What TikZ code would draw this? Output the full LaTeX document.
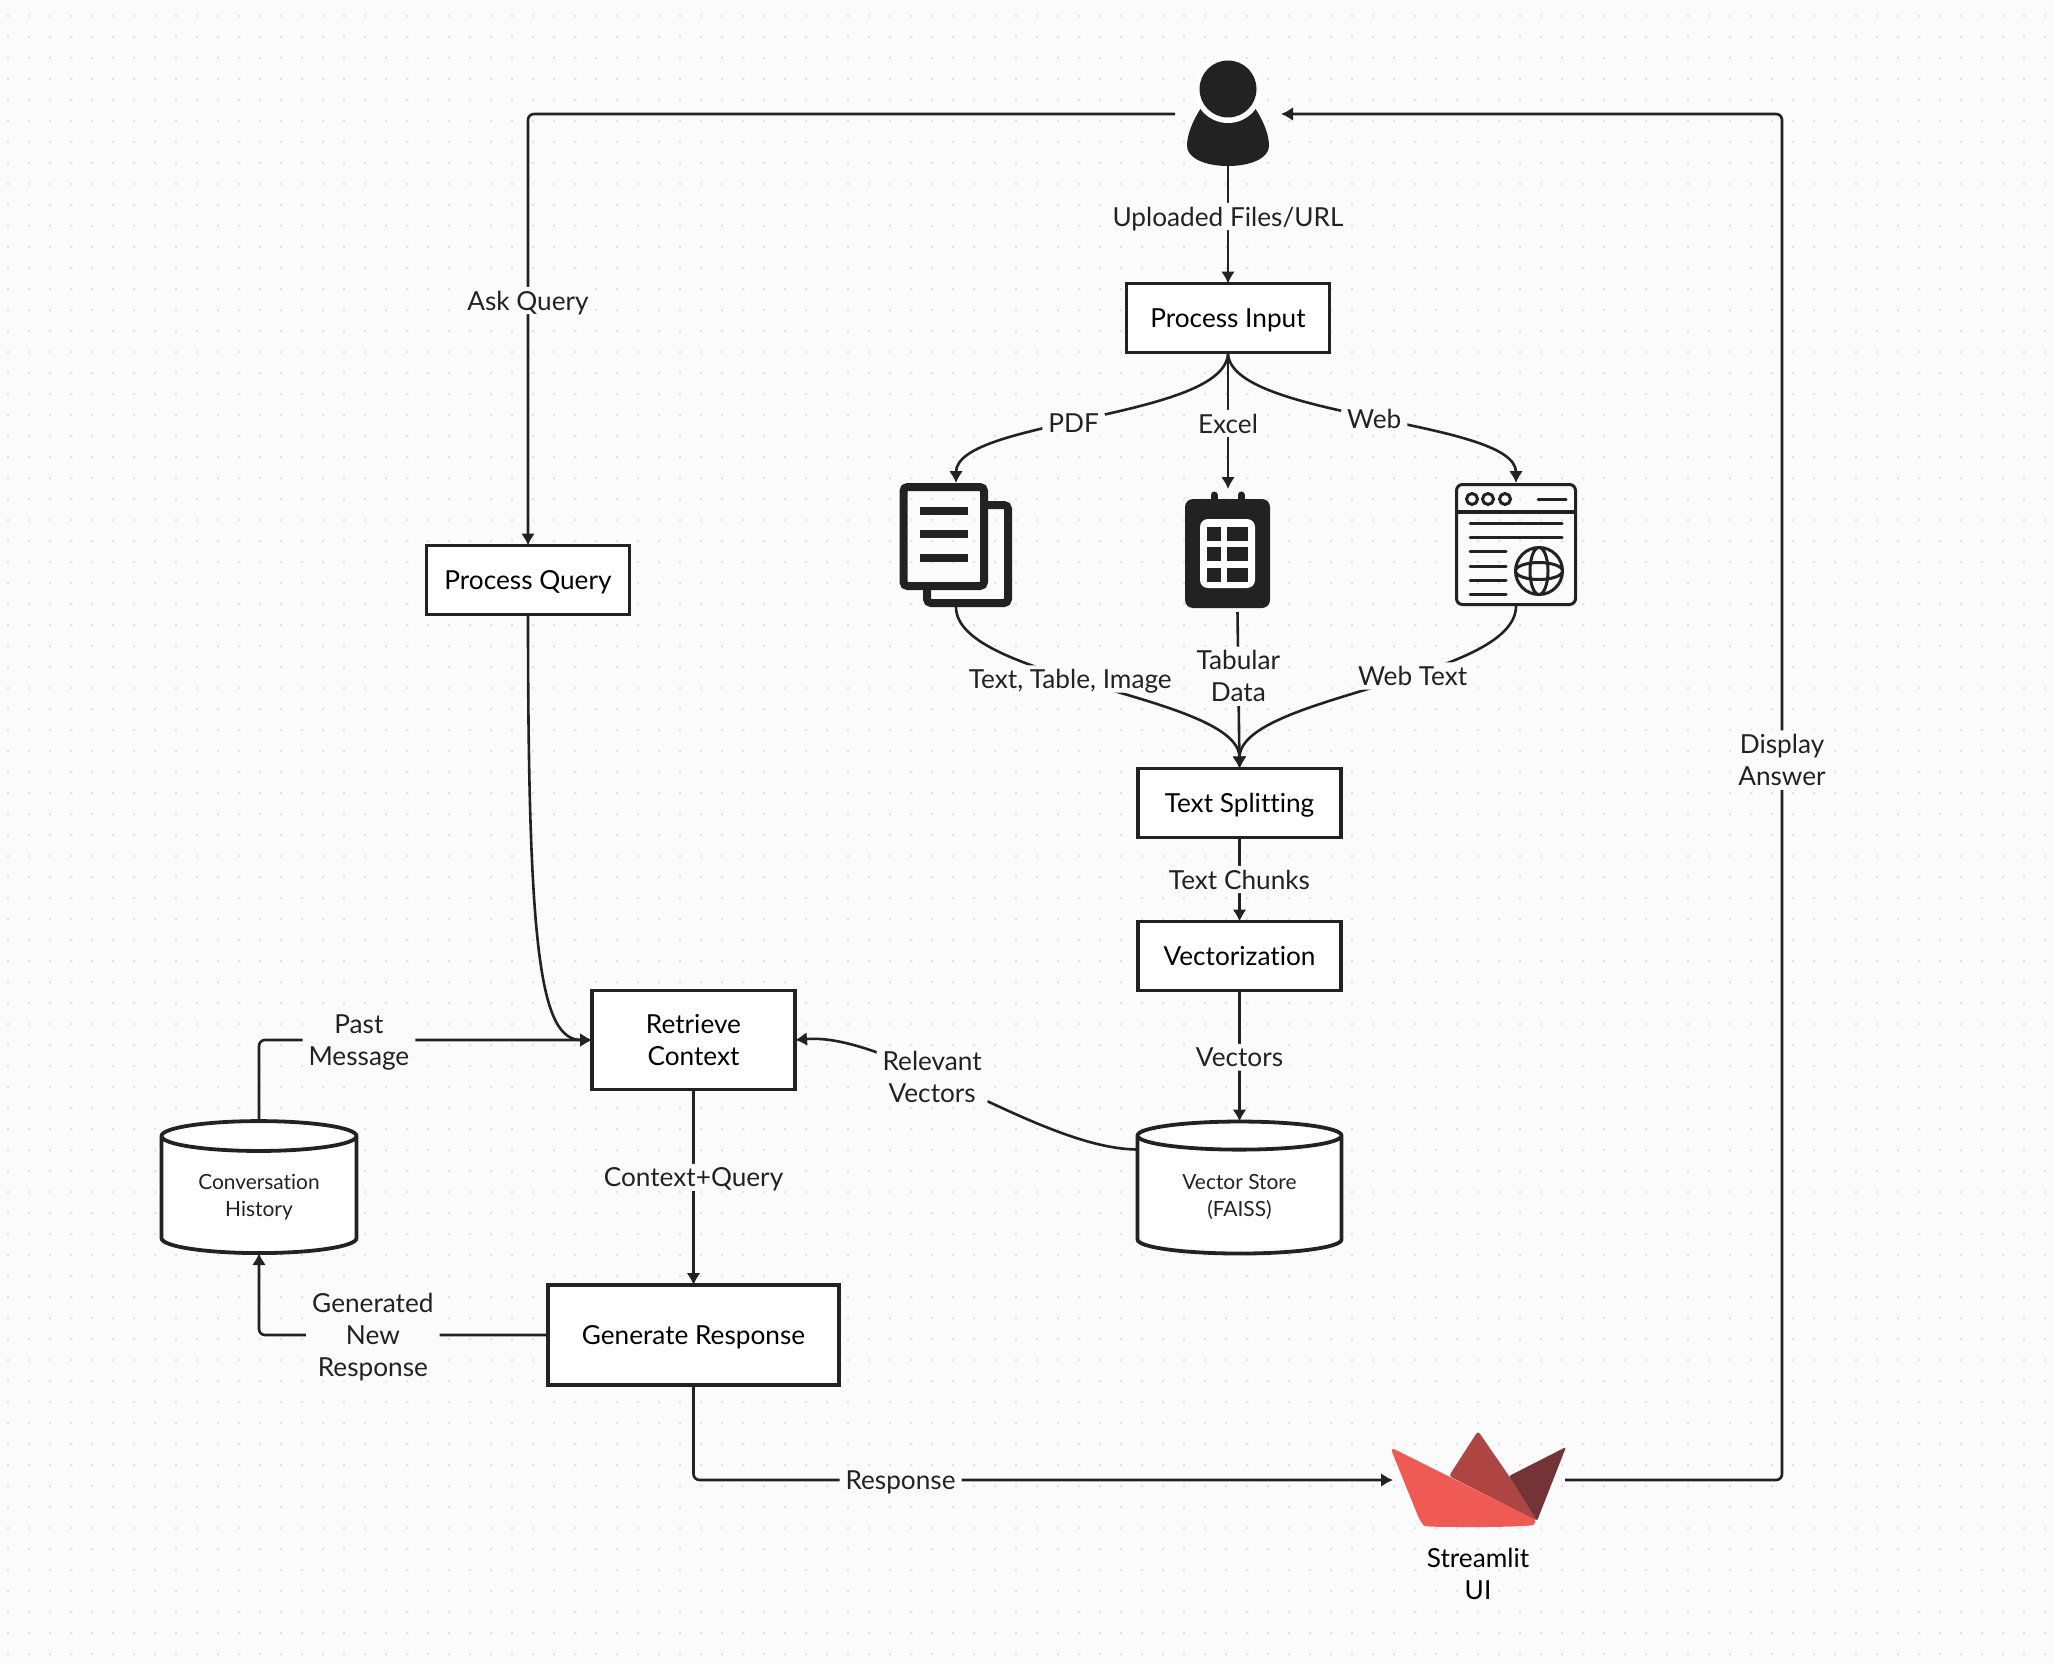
\documentclass[tikz,border=0pt]{standalone}
\usepackage{fontspec}
\setmainfont{Lato}[Ligatures=CommonOff]
\usepackage{tikz}
\usetikzlibrary{arrows.meta}
\usetikzlibrary{shapes.geometric}
\definecolor{inkcol}{HTML}{222222}
\definecolor{bgcol}{HTML}{FBFBFB}
\definecolor{dotcol}{HTML}{E2E2E2}
\definecolor{boatlight}{HTML}{EF5A54}
\definecolor{boatmid}{HTML}{AE4543}
\definecolor{boatdark}{HTML}{743337}
\tikzset{
  procbox/.style={draw=inkcol,line width=1.9pt,fill=white,text=black,align=center,inner sep=0pt,outer sep=0pt,text depth=0pt,font=\fontsize{13.1}{16}\selectfont},
  dbbox/.style={cylinder,shape border rotate=90,aspect=0.246,draw=inkcol,line width=1.9pt,fill=white,text=inkcol,align=center,inner sep=0pt,outer sep=0pt,minimum height=66pt,text height=22.6pt,font=\fontsize{10.45}{13.5}\selectfont},
  iconbox/.style={inner sep=0pt,outer sep=0pt},
  conn/.style={draw=inkcol,line width=1.3pt,rounded corners=3pt},
  arr/.style={conn,-{Latex[length=6pt,width=7pt]}},
  lbl/.style={fill=bgcol,text=inkcol,align=center,inner xsep=3pt,inner ysep=2pt,text depth=0pt,font=\fontsize{13.1}{16}\selectfont}
}
\newcommand{\procnode}[5]{\node[procbox,minimum width=#4,minimum height=#5] (#1) at (#2) {#3};}
\newcommand{\iconnode}[4]{\node[iconbox,minimum width=#3,minimum height=#4] (#1) at (#2) {};}
\begin{document}
\begin{tikzpicture}[x=0.5pt,y=-0.5pt]
% page and dot grid
\fill[bgcol] (0,0) rectangle (2054,1664);
\fill[dotcol] \foreach \i in {0,...,97} {\foreach \j in {0,...,78} {({7+21*\i},{15+21*\j}) rectangle ++(2,2)}};
% boxes
\procnode{procInput}{1228,318}{Process Input}{101.5pt}{34.5pt}
\procnode{procQuery}{528,580}{Process Query}{101.5pt}{34.5pt}
\procnode{textSplit}{1239.5,803}{Text Splitting}{101.5pt}{34.5pt}
\procnode{vectorize}{1239.5,956}{Vectorization}{101.5pt}{34.5pt}
\procnode{retrieve}{693.5,1040}{Retrieve\\Context}{101.5pt}{49.5pt}
\procnode{genResp}{693.5,1335}{Generate Response}{145.5pt}{50pt}
% databases
\node[dbbox,minimum width=97.5pt] (histDb) at (259,1195.5) {Conversation\\History};
\node[dbbox,minimum width=102pt] (vecDb) at (1239.5,1195.5) {Vector Store\\(FAISS)};
% icon slots
\iconnode{userIcon}{1228,114}{53pt}{52pt}
\iconnode{pdfIcon}{956,545}{56pt}{62pt}
\iconnode{excelIcon}{1228,550.5}{42.5pt}{61.5pt}
\iconnode{webIcon}{1516,544.5}{60pt}{61.5pt}
\iconnode{boatIcon}{1479,1480}{86pt}{50pt}
\node[text=black,align=center,font=\fontsize{13.1}{16}\selectfont,inner sep=0pt] (boatLbl) at (1478,1574) {Streamlit\\UI};
% user
\fill[inkcol] (1201,108) .. controls (1192,122) and (1187,135) .. (1187,146) .. controls (1187,158) and (1205,166) .. (1228,166) .. controls (1251,166) and (1269,158) .. (1269,146) .. controls (1269,135) and (1264,122) .. (1255,108) -- cycle;
\fill[white] (1228,89) circle[radius=34];
\fill[inkcol] (1228,89) circle[radius=28.5];
% pdf pages
\draw[inkcol,line width=4pt,rounded corners=2pt] (984,505) -- (1008,505) -- (1008,603) -- (927,603) -- (927,586);
\draw[inkcol,line width=4pt,rounded corners=2pt] (903.5,487) rectangle (984,586);
\foreach \ypos in {510.5,534,558} {\fill[inkcol] (920,\ypos-4) rectangle (968,\ypos+4);}
% excel sheet
\draw[inkcol,line width=3.5pt,line cap=round] (1214,495) -- (1214,503) (1241,495) -- (1241,503);
\fill[inkcol,rounded corners=4pt] (1185,499) rectangle (1270,608);
\fill[white,rounded corners=4pt] (1200,519) rectangle (1255,588);
\foreach \xa/\xb in {1207/1221,1227/1248} {\foreach \ya/\yb in {527/541,547/561,568/582} {\fill[inkcol] (\xa,\ya) rectangle (\xb,\yb);}}
% web page
\draw[inkcol,line width=1.5pt,rounded corners=3pt] (1456.5,484.5) rectangle (1575.5,604.5);
\draw[inkcol,line width=2pt] (1456,512) -- (1576,512);
\foreach \xpos in {1472,1488,1505} {\draw[inkcol,line width=1.5pt] (\xpos,499) circle[radius=5.5];}
\draw[inkcol,line width=1.5pt,line cap=round] (1538,499) -- (1566,499);
\foreach \ypos in {523,537} {\draw[inkcol,line width=1.5pt,line cap=round] (1470,\ypos) -- (1562,\ypos);}
\foreach \ypos in {551,566,580,594} {\draw[inkcol,line width=1.5pt,line cap=round] (1470,\ypos) -- (1506,\ypos);}
\draw[inkcol,line width=1.5pt] (1539,571) circle[radius=23.5] (1539,571) ellipse[x radius=23.5,y radius=8.5] (1539,571) ellipse[x radius=9,y radius=23.5];
% streamlit boat
\fill[boatmid,rounded corners=1.5pt] (1449,1476) -- (1478,1431) -- (1509,1476) -- (1537,1521) -- cycle;
\fill[boatdark,rounded corners=1pt] (1509,1476) -- (1566,1447) -- (1537,1521) -- cycle;
\fill[boatlight,rounded corners=3pt] (1390,1447) -- (1538,1521) .. controls (1532,1526) and (1500,1527) .. (1478,1527) .. controls (1450,1527) and (1425,1527) .. (1420,1521) -- cycle;
% connectors to and from the user
\draw[arr] (userIcon.west) -| node[lbl,pos=.716] (askLbl) {Ask Query} (procQuery.north);
\draw[arr] (userIcon.south) -- node[lbl,pos=.43] (uploadLbl) {Uploaded Files/URL} (procInput.north);
\coordinate (dispLow) at (1782,1480);
\coordinate (dispHigh) at (1782,114);
\draw[arr] (boatIcon.east) -- (dispLow) -- node[lbl,pos=.527] (dispLbl) {Display\\Answer} (dispHigh) -- (userIcon.east);
% input branches
\draw[arr] (procInput.south) .. controls (1228,419) and (956,419) .. node[lbl,pos=.545] (pdfLbl) {PDF} (pdfIcon.north);
\draw[arr] (procInput.south) -- node[lbl,pos=.52] (excelLbl) {Excel} (excelIcon.north);
\draw[arr] (procInput.south) .. controls (1228,419) and (1516,419) .. node[lbl,pos=.505] (webLbl) {Web} (webIcon.north);
% into text splitting
\draw[arr] (pdfIcon.south) .. controls (956,680) and (1239.5,695) .. node[lbl,pos=.435] (textLbl) {Text, Table, Image} (textSplit.north);
\draw[arr] ([xshift=4.75pt]excelIcon.south) -- node[lbl,pos=.41] (tabLbl) {Tabular\\Data} (textSplit.north);
\draw[arr] (webIcon.south) .. controls (1516,680) and (1239.5,695) .. node[lbl,pos=.415] (webTextLbl) {Web Text} (textSplit.north);
% vector pipeline
\draw[arr] (textSplit.south) -- node[lbl] (chunkLbl) {Text Chunks} (vectorize.north);
\draw[arr] (vectorize.south) -- node[lbl,pos=.51] (vecLbl) {Vectors} (vecDb.north);
\draw[arr] ([yshift=23pt]vecDb.west) .. controls (1040,1149) and (890,1032) .. node[lbl,pos=.59] (relLbl) {Relevant\\Vectors} (retrieve.east);
% query path
\draw[arr] (procQuery.south) .. controls (528,950) and (540,1040) .. (retrieve.west);
\draw[arr] (histDb.north) |- node[lbl,pos=.65] (pastLbl) {Past\\Message} (retrieve.west);
\draw[arr] (retrieve.south) -- node[lbl,pos=.45] (ctxLbl) {Context+Query} (genResp.north);
\draw[arr] (genResp.west) -| node[lbl,pos=.303] (genLbl) {Generated\\New\\Response} (histDb.south);
\draw[arr] (genResp.south) |- node[lbl,pos=.648] (respLbl) {Response} (boatIcon.west);
\end{tikzpicture}
\end{document}
